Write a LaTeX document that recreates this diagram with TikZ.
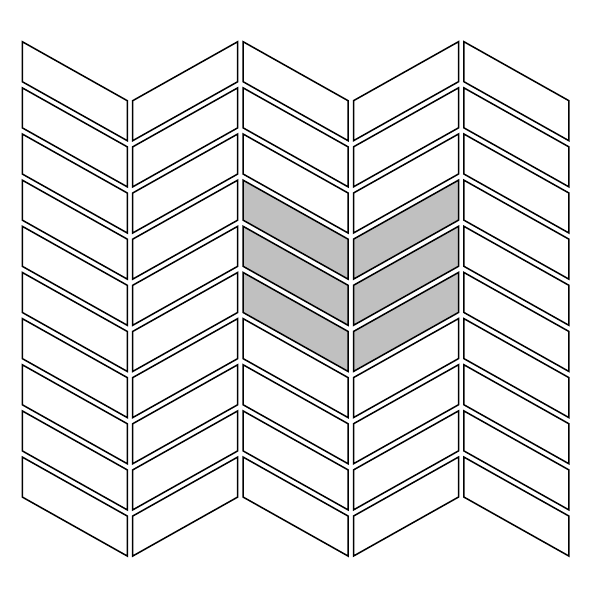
\documentclass[tikz,border=0pt]{standalone}
\definecolor{tilegray}{RGB}{192,192,192}
\begin{document}
\begin{tikzpicture}[x=1pt,y=-1pt,
  tile/.style={draw=black,line width=1.5pt,line join=miter,fill=white},
  shadedtile/.style={tile,fill=tilegray}]
\useasboundingbox (0,0) rectangle (600,600);
\foreach \c in {0,...,4}{
  \foreach \r in {0,...,9}{
    \pgfmathsetmacro\xl{22.3+110.4*\c}
    \pgfmathsetmacro\xr{\xl+105}
    \pgfmathsetmacro\yt{41.7+46.15*\r}
    \pgfmathsetmacro\yl{\yt+59*mod(\c,2)}
    \pgfmathsetmacro\yr{\yt+59*(1-mod(\c,2))}
    \pgfmathsetmacro\sh{(\c==2 || \c==3) && (\r>=3 && \r<=5) ? 1 : 0}
    \ifdim\sh pt>0.5pt
      \path[shadedtile] (\xl,\yl) -- (\xr,\yr) -- (\xr,\yr+40) -- (\xl,\yl+40) -- cycle;
    \else
      \path[tile] (\xl,\yl) -- (\xr,\yr) -- (\xr,\yr+40) -- (\xl,\yl+40) -- cycle;
    \fi
  }
}
\end{tikzpicture}
\end{document}
